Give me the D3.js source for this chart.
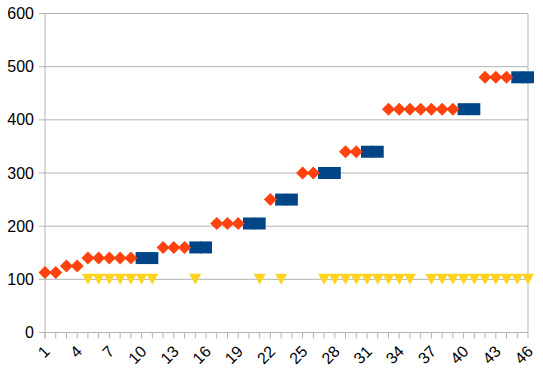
<!DOCTYPE html>
<html>
<head>
<meta charset="utf-8">
<script src="https://cdn.jsdelivr.net/npm/d3@7"></script>
<style>
  body { margin: 0; background: #fff; }
  text { font-family: "Liberation Sans", Arial, sans-serif; font-size: 16px; fill: #000; }
</style>
</head>
<body>
<div id="chart"></div>
<script>
// categories along the x axis
var categories = [1,2,3,4,5,6,7,8,9,10,11,12,13,14,15,16,17,18,19,20,21,22,23,
                  24,25,26,27,28,29,30,31,32,33,34,35,36,37,38,39,40,41,42,43,44,45,46];
var xTickLabels = [1,4,7,10,13,16,19,22,25,28,31,34,37,40,43,46];
var yTicks = [0,100,200,300,400,500,600];

// series values (null = no point)
var blueValues = [null,null,null,null,null,null,null,null,null,140,140,null,null,null,160,160,
                  null,null,null,205,205,null,250,250,null,null,300,300,null,null,340,340,
                  null,null,null,null,null,null,null,420,420,null,null,null,480,480];
var redValues = [113,113,125,125,140,140,140,140,140,null,null,160,160,160,null,null,
                 205,205,205,null,null,250,null,null,300,300,null,null,340,340,null,null,
                 420,420,420,420,420,420,420,null,null,480,480,480,null,null];
var yellowValues = [null,null,null,null,100,100,100,100,100,100,100,null,null,null,100,null,
                    null,null,null,null,100,null,100,null,null,null,100,100,100,100,100,100,
                    100,100,100,null,100,100,100,100,100,100,100,100,100,100];

var width = 543, height = 375;
var plotLeft = 45, plotRight = 528, plotTop = 13.5, plotBottom = 332.5;

var svg = d3.select('#chart').append('svg')
    .attr('width', width)
    .attr('height', height);

var x = d3.scalePoint().domain(categories).range([plotLeft, plotRight]);
var y = d3.scaleLinear().domain([0, 600]).range([plotBottom, plotTop]);

// grid lines
svg.append('g').selectAll('line')
    .data(yTicks)
    .enter().append('line')
    .attr('x1', plotLeft - 6).attr('x2', plotRight)
    .attr('y1', d => y(d)).attr('y2', d => y(d))
    .attr('stroke', '#b3b3b3').attr('stroke-width', 1);

// plot border left/right
svg.append('line').attr('x1', plotLeft).attr('x2', plotLeft).attr('y1', plotTop).attr('y2', plotBottom + 6)
    .attr('stroke', '#b3b3b3');
svg.append('line').attr('x1', plotRight).attr('x2', plotRight).attr('y1', plotTop).attr('y2', plotBottom)
    .attr('stroke', '#b3b3b3');

// x tick marks
svg.append('g').selectAll('line')
    .data(categories)
    .enter().append('line')
    .attr('x1', d => x(d)).attr('x2', d => x(d))
    .attr('y1', plotBottom).attr('y2', plotBottom + 6)
    .attr('stroke', '#b3b3b3');

// y labels
svg.append('g').selectAll('text')
    .data(yTicks)
    .enter().append('text')
    .attr('x', plotLeft - 11)
    .attr('y', d => y(d))
    .attr('dy', '0.35em')
    .style('text-anchor', 'end')
    .text(d => d);

// x labels, rotated
svg.append('g').selectAll('text')
    .data(xTickLabels)
    .enter().append('text')
    .attr('transform', d => 'translate(' + (x(d) - 2) + ',' + (plotBottom + 12) + ') rotate(-45)')
    .attr('dy', '0.7em')
    .style('text-anchor', 'end')
    .text(d => d);

function pts(vals) {
    return categories.map((c, i) => ({c: c, v: vals[i]})).filter(d => d.v != null);
}

// blue squares
svg.append('g').selectAll('rect')
    .data(pts(blueValues))
    .enter().append('rect')
    .attr('x', d => x(d.c) - 6)
    .attr('y', d => y(d.v) - 6)
    .attr('width', 12)
    .attr('height', 12)
    .attr('fill', '#004586');

// red diamonds
var diamond = d3.symbol().type(d3.symbolSquare).size(85);
svg.append('g').selectAll('path')
    .data(pts(redValues))
    .enter().append('path')
    .attr('d', diamond)
    .attr('transform', d => 'translate(' + x(d.c) + ',' + y(d.v) + ') rotate(45)')
    .attr('fill', '#ff420e');

// yellow down triangles
var downTriangle = {
    draw: function(ctx, size) {
        ctx.moveTo(-6, -5.5);
        ctx.lineTo(6, -5.5);
        ctx.lineTo(0, 5.5);
        ctx.closePath();
    }
};
svg.append('g').selectAll('path')
    .data(pts(yellowValues))
    .enter().append('path')
    .attr('d', d3.symbol().type(downTriangle))
    .attr('transform', d => 'translate(' + x(d.c) + ',' + y(d.v) + ')')
    .attr('fill', '#ffd320');
</script>
</body>
</html>
